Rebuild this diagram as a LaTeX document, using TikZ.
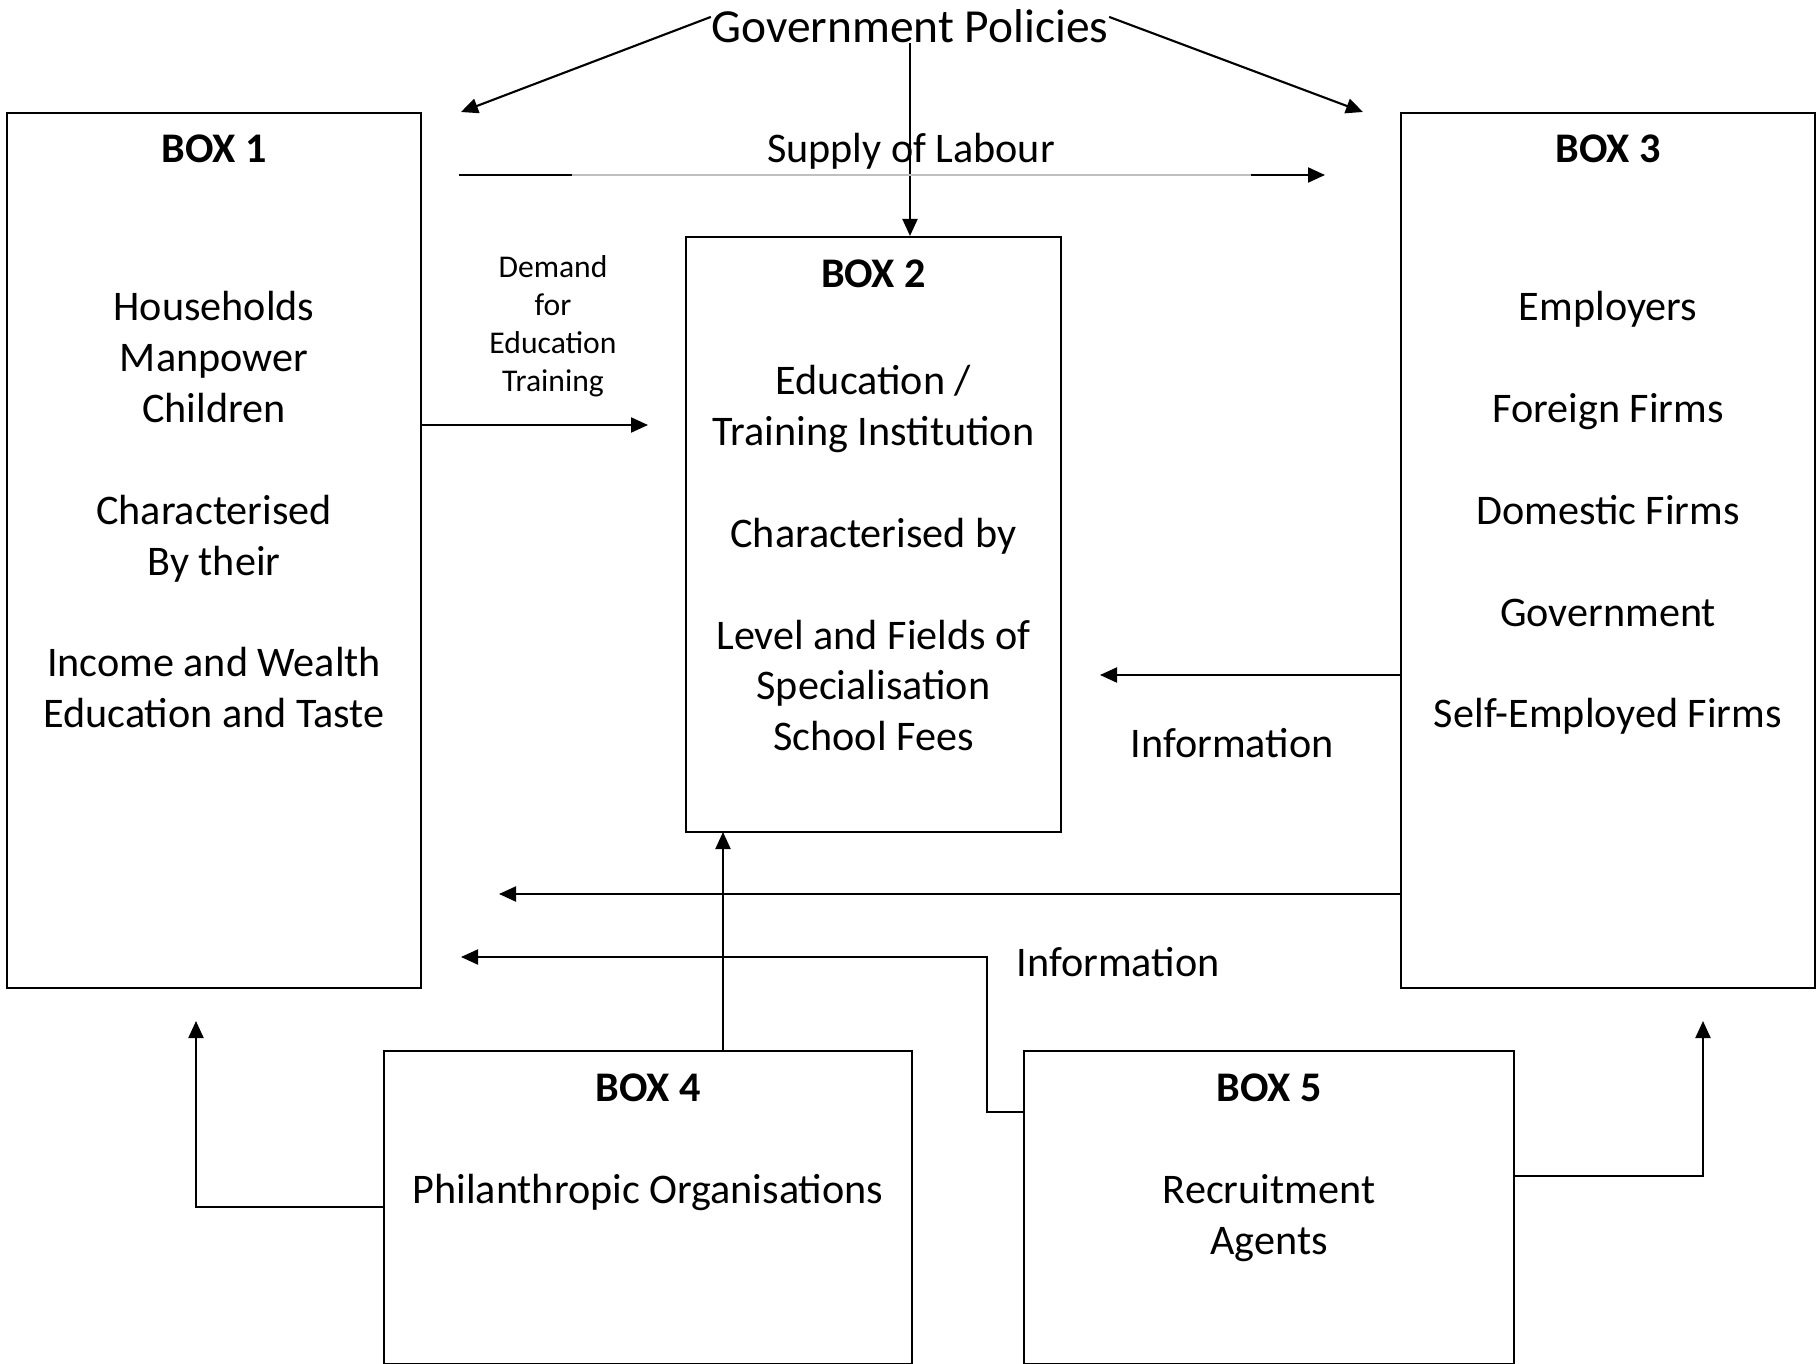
\documentclass[tikz,border=0pt]{standalone}
\usepackage{fontspec}
\setmainfont{Carlito}
\usetikzlibrary{arrows.meta, positioning}

\begin{document}
\begin{tikzpicture}[x=0.1mm, y=-0.1mm,
    boxstyle/.style={draw, line width=0.6pt, inner sep=0pt},
    titletext/.style={font=\fontsize{12}{14.5}\selectfont\bfseries, anchor=base, inner sep=0pt},
    bodytext/.style={font=\fontsize{12}{14.5}\selectfont, align=center, anchor=base, inner sep=0pt},
    smalltext/.style={font=\fontsize{9}{10.8}\selectfont, align=center, anchor=base, inner sep=0pt},
    arrowstyle/.style={-{Triangle[length=1.7mm, width=1.5mm]}, line width=0.6pt},
    linkstyle/.style={line width=0.6pt},
]
    \useasboundingbox (0,0) rectangle (1819,1364);

    % The five boxes
    \node[boxstyle, minimum width=41.4mm, minimum height=87.5mm] (box1) at (214,550.5) {};
    \node[boxstyle, minimum width=37.5mm, minimum height=59.5mm] (box2) at (873.5,534.5) {};
    \node[boxstyle, minimum width=41.4mm, minimum height=87.5mm] (box3) at (1608,550.5) {};
    \node[boxstyle, minimum width=52.8mm, minimum height=31.3mm] (box4) at (648,1207.5) {};
    \node[boxstyle, minimum width=49mm, minimum height=31.3mm] (box5) at (1269,1207.5) {};

    % Box titles
    \node[titletext] (box1title) at ([yshift=-5.1mm]box1.north) {BOX 1};
    \node[titletext] (box2title) at ([yshift=-5.2mm]box2.north) {BOX 2};
    \node[titletext] (box3title) at ([yshift=-5.1mm]box3.north) {BOX 3};
    \node[titletext] (box4title) at ([yshift=-5.2mm]box4.north) {BOX 4};
    \node[titletext] (box5title) at ([yshift=-5.2mm]box5.north) {BOX 5};

    % Box contents (base anchor sits on the last line)
    \node[bodytext] (box1body) at ([yshift=-61.6mm]box1.north)
        {Households\\Manpower\\Children\\[14.5pt]Characterised\\By their\\[14.5pt]Income and Wealth\\Education and Taste};
    \node[bodytext] (box2body) at ([yshift=-51.5mm]box2.north)
        {Education /\\Training Institution\\[14.5pt]Characterised by\\[14.5pt]Level and Fields of\\Specialisation\\School Fees};
    \node[bodytext] (box3body) at ([yshift=-61.6mm]box3.north)
        {Employers\\[14.5pt]Foreign Firms\\[14.5pt]Domestic Firms\\[14.5pt]Government\\[14.5pt]Self-Employed Firms};
    \node[bodytext] (box4body) at ([yshift=-15.4mm]box4.north) {Philanthropic Organisations};
    \node[bodytext] (box5body) at ([yshift=-20.5mm]box5.north) {Recruitment\\Agents};

    % Government policies on top
    \node[font=\fontsize{13.5}{16}\selectfont, anchor=base, inner sep=0pt] (gov) at (910,42) {Government Policies};
    \coordinate (govleft) at (461,112);
    \coordinate (govright) at (1363,112);
    \draw[arrowstyle] ([yshift=2.5pt]gov.west) -- (govleft);
    \draw[arrowstyle] ([yshift=2.5pt]gov.east) -- (govright);
    \draw[arrowstyle] (gov.south) -- (gov.south |- box2.north);

    % Supply of labour
    \node[bodytext] (supply) at (911,162) {Supply of Labour};
    \coordinate (supplystart) at (459,175);
    \coordinate (supplygrayA) at (572,175);
    \coordinate (supplygrayB) at (1251,175);
    \coordinate (supplyend) at (1325,175);
    \draw[linkstyle] (supplystart) -- (supplygrayA);
    \draw[line width=0.3pt, black!25] (supplygrayA) -- (supplygrayB);
    \draw[arrowstyle] (supplygrayB) -- (supplyend);

    % Demand for education
    \node[smalltext] (demand) at (553,391) {Demand\\for\\Education\\Training};
    \coordinate (demandtip) at (648,425);
    \draw[arrowstyle] (box1.east |- demandtip) -- (demandtip);

    % Information from box 3
    \coordinate (infotipA) at (1100,675);
    \draw[arrowstyle] (box3.west |- infotipA) -- (infotipA);
    \node[bodytext] (infoA) at (1232,757) {Information};
    \coordinate (infotipB) at (499,894);
    \draw[arrowstyle] (box3.west |- infotipB) -- (infotipB);

    % Information from box 5
    \coordinate (infobend) at (987,1112);
    \coordinate (infotipC) at (461,957);
    \draw[arrowstyle] (box5.west |- infobend) -- (infobend) |- (infotipC);
    \node[bodytext] (infoC) at (1118,976) {Information};

    % Box 4 and box 5 links
    \draw[arrowstyle] (723,1051) -- (723,832);
    \coordinate (box1tip) at (196,1021);
    \draw[arrowstyle] (box4.west |- 0,1207) -| (box1tip);
    \coordinate (box3tip) at (1703,1021);
    \draw[arrowstyle] (box5.east |- 0,1176) -| (box3tip);

\end{tikzpicture}
\end{document}
